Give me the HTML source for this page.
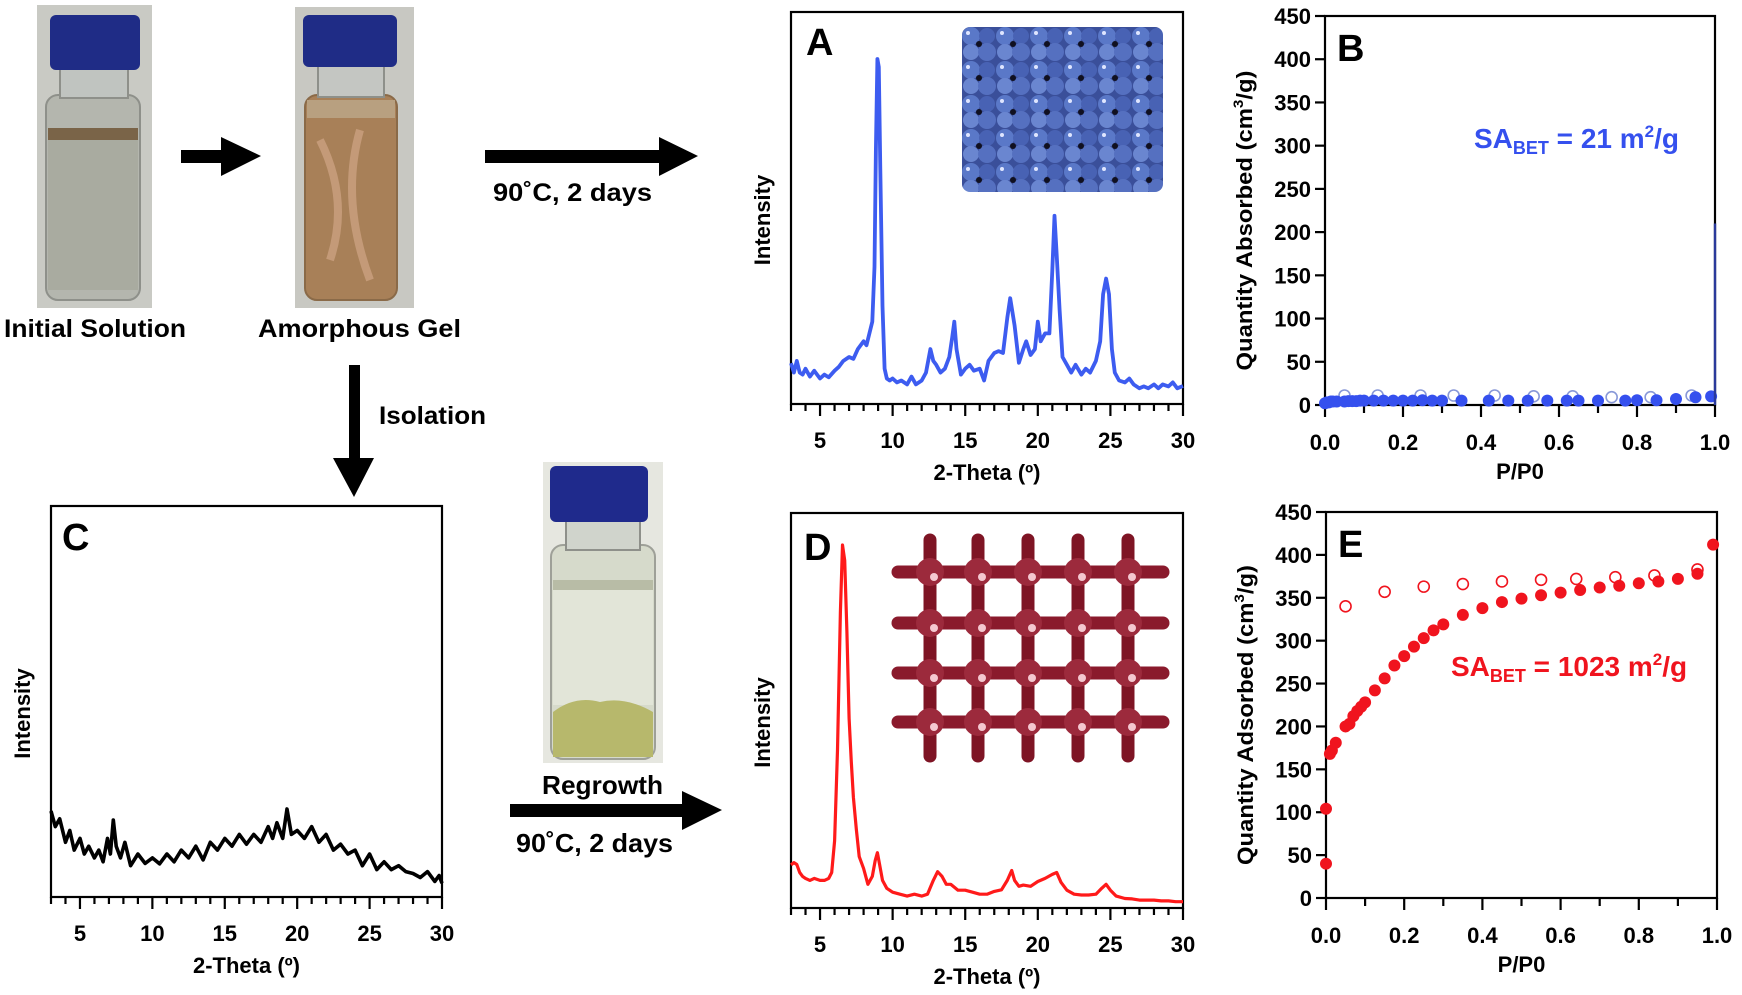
<!DOCTYPE html>
<html><head><meta charset="utf-8"><title>Gel to MOF figure</title>
<style>
html,body{margin:0;padding:0;background:#fff;}
svg{display:block;font-family:"Liberation Sans",Arial,sans-serif;font-size:22px;}
.t{font-weight:bold;}
</style></head>
<body>
<svg id="fig" width="1742" height="995" viewBox="0 0 1742 995" xmlns="http://www.w3.org/2000/svg">
<defs>
  <pattern id="bluePat" x="962" y="27" width="34" height="34" patternUnits="userSpaceOnUse">
    <rect width="34" height="34" fill="#3a4f9a"/>
    <circle cx="9" cy="9" r="9" fill="#5a78c8"/>
    <circle cx="25" cy="9" r="8" fill="#4862b4"/>
    <circle cx="9" cy="25" r="8" fill="#6a86d0"/>
    <circle cx="25" cy="25" r="9" fill="#5570c0"/>
    <circle cx="17" cy="17" r="3" fill="#101020"/>
    <circle cx="6" cy="6" r="2" fill="#dfe6ff"/>
  </pattern>
</defs>

<g>
  <rect x="37" y="5" width="115" height="303" fill="#c9cac4"/>
  <rect x="46" y="95" width="94" height="205" rx="12" fill="#b4b6ae" stroke="#8e908a" stroke-width="2"/>
  <rect x="60" y="68" width="68" height="30" fill="#c0c4c0" stroke="#8e908a" stroke-width="2"/>
  <rect x="48" y="128" width="90" height="12" fill="#7a6448"/>
  <rect x="48" y="140" width="90" height="150" fill="#a9aba0"/>
  <rect x="50" y="15" width="90" height="55" rx="6" fill="#1f2c86"/>
</g>
<g>
  <polygon points="181,150 221,150 221,137 261,156 221,176 221,163 181,163" fill="#000"/>
</g>
<g>
  <rect x="295" y="7" width="119" height="301" fill="#c8c8c2"/>
  <rect x="305" y="95" width="92" height="205" rx="12" fill="#a88058" stroke="#8a6a48" stroke-width="2"/>
  <rect x="318" y="65" width="66" height="32" fill="#c4c6c2" stroke="#8e908a" stroke-width="2"/>
  <rect x="307" y="100" width="88" height="18" fill="#b8a080"/>
  <path d="M320 140 Q350 200 330 260 M360 130 Q340 200 370 280" stroke="#c49a78" stroke-width="8" fill="none"/>
  <rect x="303" y="15" width="94" height="52" rx="6" fill="#1f2c86"/>
</g>
<text class="t" x="4" y="337" font-size="25" textLength="182" lengthAdjust="spacingAndGlyphs">Initial Solution</text>
<text class="t" x="258" y="337" font-size="25" textLength="203" lengthAdjust="spacingAndGlyphs">Amorphous Gel</text>
<g>
  <polygon points="485,150 659,150 659,137 698,156 659,176 659,163 485,163" fill="#000"/>
</g>
<text class="t" x="493" y="201" font-size="25" textLength="159" lengthAdjust="spacingAndGlyphs">90˚C, 2 days</text>
<g>
  <polygon points="349,365 360,365 360,458 374,458 354,497 333,458 349,458" fill="#000"/>
</g>
<text class="t" x="379" y="424" font-size="25" textLength="107" lengthAdjust="spacingAndGlyphs">Isolation</text>

<g>
  <rect x="543" y="462" width="120" height="301" fill="#e6e7e0"/>
  <rect x="551" y="545" width="104" height="214" rx="12" fill="#d6dacb" stroke="#9ea098" stroke-width="2"/>
  <rect x="566" y="520" width="74" height="30" fill="#d0d4cc" stroke="#8e908a" stroke-width="2"/>
  <rect x="553" y="580" width="100" height="10" fill="#b8bca6"/>
  <rect x="553" y="590" width="100" height="115" fill="#e2e5d8"/>
  <path d="M553 712 Q575 695 600 702 Q625 696 653 712 L653 757 L553 757 Z" fill="#b7b86c"/>
  <rect x="550" y="466" width="98" height="56" rx="6" fill="#1f2a8c"/>
</g>
<text class="t" x="542" y="794" font-size="26" textLength="121" lengthAdjust="spacingAndGlyphs">Regrowth</text>
<g>
  <polygon points="510,804 682,804 682,791 722,810 682,830 682,817 510,817" fill="#000"/>
</g>
<text class="t" x="516" y="852" font-size="26" textLength="157" lengthAdjust="spacingAndGlyphs">90˚C, 2 days</text>

<g>
  <rect x="962" y="27" width="201" height="165" rx="8" fill="url(#bluePat)"/>
</g>
<g id="insetD"></g>

<g id="charts"></g>
</svg>

<script>
// ---------- Panel A data (PXRD, gel heated) ----------
const aTheta = [3,3.2,3.4,3.6,3.8, 4,4.3,4.6,5,5.3, 5.6,6,6.3,6.6,7, 7.3,7.6,8,8.2,8.4, 8.6,8.75,8.85,8.95,9.05, 9.15,9.3,9.45,9.6,9.8, 10,10.3,10.6,11,11.3, 11.6,12,12.3,12.6,12.8, 13,13.3,13.6,13.9,14.1, 14.25,14.4,14.7,15,15.3, 15.6,16,16.3,16.6,17, 17.3,17.6,17.9,18.1,18.4, 18.7,19,19.2,19.5,19.8, 20,20.2,20.5,20.8,21, 21.15,21.3,21.5,21.7,22, 22.3,22.6,23,23.3,23.6, 24,24.3,24.5,24.7,24.9, 25.1,25.3,25.6,26,26.3, 26.6,27,27.3,27.6,28, 28.3,28.6,29,29.3,29.6, 30];
const aInt = [10.4,8,11,8,7.5, 9,7,8.5,6.5,7.5, 6.8,8.5,9.5,11,12, 11.5,14,16,15,18, 21,35,65,88,86, 60,25,9,6.5,6, 6.5,5.5,6,5,7, 5,6,8,14,11, 10,8,9,12,17, 21,14,7.5,9,10, 8.5,9,6,11,13, 13.5,13,22,27,20, 10.5,14,16,12.5,14, 21,16,18,18,34, 48,38,24,12,10, 8,10,7.5,9,8, 11,16,28,32,28, 14,8,6,5.5,6.5, 5,4,4.5,4,5, 4,5,4.5,5.5,4, 4.6];

// ---------- Panel C data (PXRD, isolated gel) ----------
const cTheta = [3,3.3,3.6,4,4.3, 4.6,5,5.3,5.6,6, 6.3,6.6,6.9,7.1,7.3, 7.5,7.8,8.1,8.5,9, 9.5,10,10.5,11,11.5, 12,12.5,13,13.5,14, 14.5,15,15.5,16,16.5, 17,17.5,18,18.3,18.6, 19,19.3,19.6,20,20.5, 21,21.5,22,22.5,23, 23.5,24,24.5,25,25.5, 26,26.5,27,27.5,28, 28.5,29,29.5,29.8,30];
const cInt = [22,18,20,14,17, 12,15,11,13,10, 12,9,15,11,19.7, 13,10,14,8,11, 8.6,10,8.5,11,9, 12,10,13,9.5,14, 12,15,13,16,13.5, 16,14,18,15,19, 15,22.5,16,17,15, 18,14,16,12,13.5, 11,12,8,11,7, 9,7,8,6.5,6, 5,6.5,4,5.5,3.5, 4.5,3,5,2,3.9].slice(0,65);

// ---------- Panel D data (PXRD, regrown) ----------
const dTheta = [3,3.2,3.4,3.6,3.8, 4,4.3,4.6,5,5.3, 5.6,5.8,6,6.2,6.4, 6.55,6.7,6.85,7,7.15, 7.3,7.5,7.7,8,8.3, 8.6,8.8,8.95,9.1,9.3, 9.6,10,10.5,11,11.5, 12,12.4,12.8,13.1,13.4, 13.7,14,14.5,15,15.5, 16,16.5,17,17.5,17.9, 18.2,18.4,18.7,19,19.5, 20,20.5,21,21.3,21.6, 22,22.5,23,23.5,24, 24.4,24.7,25,25.4,26, 26.5,27,27.5,28,28.5, 29,29.5,30];
const dInt = [10.9,11.5,11,9,8, 7.5,7,7.5,7,7, 7.5,9,17,40,75, 91.9,88,70,48,37, 28,20,13,10,6, 8,12,14,11,7, 5,4,3.5,3,3.5, 3,3.5,7,9.2,8, 6,6,4.5,4.5,4, 3.5,3.5,4.2,4.6,7, 9.5,7,5.5,5.8,5.5, 6.7,7.5,8.5,9,6.5, 4.5,3.5,3.3,3.3,3.5, 5,6,4.5,3,2.4, 2.3,2,2,2,1.8, 1.8,1.6,1.6];

// ---------- Panel B data ----------
const bAdsP = [0,0.005,0.01,0.015,0.02, 0.03,0.05,0.06,0.07,0.08, 0.09,0.1,0.125,0.15,0.175, 0.2,0.225,0.25,0.275,0.3, 0.35,0.42,0.47,0.52,0.57, 0.62,0.65,0.7,0.77,0.8, 0.85,0.9,0.95,0.99];
const bAdsQ = [2,3,3,4,4, 4,4,4.5,4.5,4.5, 5,5,5,5,5, 5,5,5.5,5,5, 5,5,5,5,5, 5,5,5,5,5.5, 5.5,7,9,10];
const bDesP = [0.05,0.135,0.245,0.33,0.435,0.535,0.635,0.735,0.835,0.94];
const bDesQ = [11,11,11,11,11,10,10,9,9,11];

// ---------- Panel E data ----------
const eAdsP = [0,0,0.01,0.015,0.025, 0.05,0.06,0.07,0.08,0.09, 0.1,0.125,0.15,0.175,0.2, 0.225,0.25,0.275,0.3,0.35, 0.4,0.45,0.5,0.55,0.6, 0.65,0.7,0.75,0.8,0.85, 0.9,0.95,0.99];
const eAdsQ = [40,104,168,172,181, 200,203,212,218,223, 228,242,256,271,282, 293,303,312,319,330, 338,345,349,353,356, 359,362,364,367,369, 372,378,412];
const eDesP = [0.05,0.15,0.25,0.35,0.45,0.55,0.64,0.74,0.84,0.95];
const eDesQ = [340,357,363,366,369,371,372,374,376,383];

const xrdTicks = [5,10,15,20,25,30];
const isoXTicks = [0,0.2,0.4,0.6,0.8,1.0];
const isoYTicks = [0,50,100,150,200,250,300,350,400,450];

const NS = 'http://www.w3.org/2000/svg';
const root = document.getElementById('charts');
function mk(tag, attrs, parent, text) {
  const e = document.createElementNS(NS, tag);
  for (const k in attrs) e.setAttribute(k, attrs[k]);
  if (text !== undefined) e.textContent = text;
  (parent || root).appendChild(e);
  return e;
}

function xrdPanel(key, box, letter, theta, inten, color, sw, letterPos) {
  const g = mk('g', {});
  
  
  const sx = v => box.x0 + (v - 3) / 27 * (box.x1 - box.x0);
  const sy = v => box.y1 - v / 100 * (box.y1 - box.y0);
  const frame = mk('rect', {x: box.x0, y: box.y0, width: box.x1 - box.x0, height: box.y1 - box.y0, fill: 'none', stroke: '#000', 'stroke-width': 2.2}, g);
  
  
  for (let t = 3; t <= 30; t++) {
    const major = t % 5 === 0;
    const tk = mk('line', {x1: sx(t), x2: sx(t), y1: box.y1, y2: box.y1 + (major ? 12 : 7), stroke: '#000', 'stroke-width': 2.2}, g);
    
    
  }
  xrdTicks.forEach(t => {
    const lb = mk('text', {x: sx(t), y: box.y1 + 44, 'text-anchor': 'middle', class: 't'}, g, String(t));
    
    
  });
  const xt = mk('text', {x: (box.x0 + box.x1) / 2, y: box.y1 + 76, 'text-anchor': 'middle', class: 't'}, g, '2-Theta (º)');
  
  
  const yx = box.x0 - 21, yy = (box.y0 + box.y1) / 2 + 12;
  const yt = mk('text', {x: yx, y: yy, 'text-anchor': 'middle', class: 't', transform: 'rotate(-90 ' + yx + ' ' + yy + ')'}, g, 'Intensity');
  
  
  const d = theta.map((t, i) => (i ? 'L' : 'M') + sx(t).toFixed(1) + ' ' + sy(inten[i]).toFixed(1)).join(' ');
  const p = mk('path', {d: d, fill: 'none', stroke: color, 'stroke-width': sw, 'stroke-linejoin': 'round'}, g);
  
  
  const L = mk('text', {x: letterPos[0], y: letterPos[1], class: 't', 'font-size': 38}, g, letter);
  
  
}

function isoPanel(key, box, letter, adsP, adsQ, desP, desQ, color, openColor, yTitle, saX, saY, saNum) {
  const g = mk('g', {});
  
  
  const sx = v => box.x0 + v * (box.x1 - box.x0);
  const sy = v => box.y1 - v / 450 * (box.y1 - box.y0);
  const frame = mk('rect', {x: box.x0, y: box.y0, width: box.x1 - box.x0, height: box.y1 - box.y0, fill: 'none', stroke: '#000', 'stroke-width': 2.2}, g);
  
  
  for (let i = 0; i <= 10; i++) {
    const tk = mk('line', {x1: sx(i / 10), x2: sx(i / 10), y1: box.y1, y2: box.y1 + (i % 2 === 0 ? 12 : 8), stroke: '#000', 'stroke-width': 2.2}, g);
    
    
  }
  isoXTicks.forEach(t => {
    const lb = mk('text', {x: sx(t), y: box.y1 + 45, 'text-anchor': 'middle', class: 't'}, g, t.toFixed(1));
    
    
  });
  isoYTicks.forEach(t => {
    const tk = mk('line', {x1: box.x0 - 10, x2: box.x0, y1: sy(t), y2: sy(t), stroke: '#000', 'stroke-width': 2.2}, g);
    
    
    const lb = mk('text', {x: box.x0 - 14, y: sy(t) + 8, 'text-anchor': 'end', class: 't'}, g, String(t));
    
    
  });
  const xt = mk('text', {x: (box.x0 + box.x1) / 2, y: box.y1 + 74, 'text-anchor': 'middle', class: 't'}, g, 'P/P0');
  
  
  const yx = box.x0 - 73, yy = (box.y0 + box.y1) / 2 + 10;
  const yt = mk('text', {x: yx, y: yy, 'text-anchor': 'middle', class: 't', textLength: 300, lengthAdjust: 'spacingAndGlyphs', transform: 'rotate(-90 ' + yx + ' ' + yy + ')'}, g);
  
  
  mk('tspan', {}, yt, yTitle + ' (cm');
  mk('tspan', {'font-size': 14, dy: -9}, yt, '3');
  mk('tspan', {dy: 9}, yt, '/g)');
  desP.forEach((p, i) => {
    const c = mk('circle', {cx: sx(p), cy: sy(desQ[i]), r: 5.5, fill: '#fff', stroke: openColor, 'stroke-width': 1.6}, g);
    
    
  });
  adsP.forEach((p, i) => {
    const c = mk('circle', {cx: sx(p), cy: sy(adsQ[i]), r: 6, fill: color}, g);
    
    
  });
  const sa = mk('text', {x: saX, y: saY, class: 't', 'font-size': 28, fill: color}, g);
  
  
  mk('tspan', {}, sa, 'SA');
  mk('tspan', {'font-size': 18, dy: 6}, sa, 'BET');
  mk('tspan', {dy: -6}, sa, ' = ' + saNum + ' m');
  mk('tspan', {'font-size': 17, dy: -11}, sa, '2');
  mk('tspan', {dy: 11}, sa, '/g');
  const L = mk('text', {x: box.x0 + 12, y: box.y0 + 45, class: 't', 'font-size': 38}, g, letter);
  
  
  return {sx, sy, g};
}

xrdPanel('a', {x0: 791, x1: 1183, y0: 12, y1: 404}, 'A', aTheta, aInt, '#3d5cf0', 3.8, [806, 55]);
xrdPanel('c', {x0: 51, x1: 442, y0: 506, y1: 897}, 'C', cTheta, cInt, '#000', 3.6, [62, 550]);
xrdPanel('d', {x0: 791, x1: 1183, y0: 513, y1: 908}, 'D', dTheta, dInt, '#ff1a1a', 3.2, [804, 560]);

const pb = isoPanel('b', {x0: 1325, x1: 1715, y0: 16, y1: 405}, 'B', bAdsP, bAdsQ, bDesP, bDesQ, '#3550ee', '#8898d8', 'Quantity Absorbed', 1474, 148, '21');
const edge = mk('line', {x1: pb.sx(1), x2: pb.sx(1), y1: pb.sy(0), y2: pb.sy(210), stroke: '#2a3a9a', 'stroke-width': 2.4}, pb.g);


isoPanel('e', {x0: 1326, x1: 1717, y0: 512, y1: 898}, 'E', eAdsP, eAdsQ, eDesP, eDesQ, '#f0141e', '#f0141e', 'Quantity Adsorbed', 1451, 676, '1023');

const latCols = [930, 978, 1028, 1078, 1128];
const latRows = [572, 623, 673, 722];
const ig = document.getElementById('insetD');
latCols.forEach(x => {
  const l = mk('line', {x1: x, x2: x, y1: 540, y2: 756, stroke: '#7e1424', 'stroke-width': 13, 'stroke-linecap': 'round'}, ig);
  
  
});
latRows.forEach(y => {
  const l = mk('line', {x1: 898, x2: 1163, y1: y, y2: y, stroke: '#8a1a2c', 'stroke-width': 13, 'stroke-linecap': 'round'}, ig);
  
  
});
latCols.forEach(x => latRows.forEach(y => {
  const n = mk('circle', {cx: x, cy: y, r: 14, fill: '#9c2a3c'}, ig);
  
  
  const h = mk('circle', {cx: x + 4, cy: y + 5, r: 4, fill: '#f4c8d0'}, ig);
  
  
}));
</script>
</body></html>
